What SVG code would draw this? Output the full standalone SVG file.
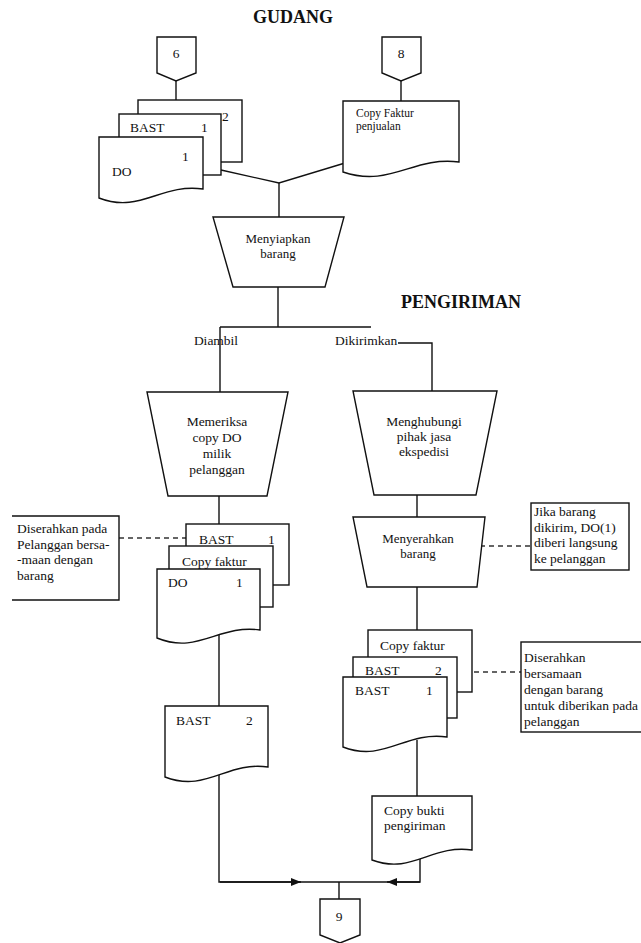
<svg xmlns="http://www.w3.org/2000/svg" width="641" height="943" viewBox="0 0 641 943">
<defs>
<style>
.ln{fill:none;stroke:#111;stroke-width:1.4}
.dash{fill:none;stroke:#333;stroke-width:1.4;stroke-dasharray:5,4}
.sh{fill:#fff;stroke:#111;stroke-width:1.4}
.t{font-family:"Liberation Serif","Times New Roman",serif;font-size:13.5px;fill:#111}
.s{font-family:"Liberation Serif","Times New Roman",serif;font-size:11.5px;fill:#111}
.m{font-size:13px}
.c{text-anchor:middle}
.h{font-family:"Liberation Serif","Times New Roman",serif;font-size:18px;font-weight:bold;fill:#111;text-anchor:middle}
</style>
<marker id="ar" viewBox="0 0 10 8" refX="10" refY="4" markerWidth="10" markerHeight="8" markerUnits="userSpaceOnUse" orient="auto">
<path d="M0,0 L10,4 L0,8 Z" fill="#111"/>
</marker>
</defs>
<rect width="641" height="943" fill="#fff"/>

<text class="h" x="293" y="23">GUDANG</text>
<text class="h" x="461" y="308">PENGIRIMAN</text>

<g id="connectors">
<path class="ln" d="M176,81 V102"/>
<path class="ln" d="M401,81 V103"/>
<path class="ln" d="M221,170 L279,183 L345,163"/>
<path class="ln" d="M279,183 V218"/>
<path class="ln" d="M278,286 V327"/>
<path class="ln" d="M220,327 H371"/>
<path class="ln" d="M220,327 V393"/>
<path class="ln" d="M398,343 H432 V392"/>
<path class="ln" d="M219,495 V526"/>
<path class="ln" d="M219,630 V708"/>
<path class="ln" d="M219,770 V882 H420 V850"/>
<path class="ln" d="M220,882 H301" marker-end="url(#ar)"/>
<path class="ln" d="M420,882 H387" marker-end="url(#ar)"/>
<path class="ln" d="M339,882 V900"/>
<path class="ln" d="M417,494 V518"/>
<path class="ln" d="M417,586 V632"/>
<path class="ln" d="M417,740 V798"/>
<path class="dash" d="M119,538 H186"/>
<path class="dash" d="M480,546 H531"/>
<path class="dash" d="M474,672 H521"/>
</g>

<g id="off6">
<path class="sh" d="M157,37 H196 V73 L176,81 L157,73 Z"/>
<text class="t c" x="176" y="58">6</text>
</g>
<g id="off8">
<path class="sh" d="M382,37 H421 V73 L401,81 L382,73 Z"/>
<text class="t c" x="401" y="58">8</text>
</g>

<g id="doc-bast2-top">
<rect class="sh" x="138" y="100" width="104" height="62"/>
<text class="t" x="222" y="121">2</text>
</g>
<g id="doc-bast1-top">
<rect class="sh" x="119" y="114" width="102" height="61"/>
<text class="t" x="130" y="132">BAST</text>
<text class="t" x="201" y="132">1</text>
</g>
<g id="doc-do-top">
<path class="sh" d="M99,137 H203 V189 C161,183 140,214 99,198 Z"/>
<text class="t" x="182" y="161">1</text>
<text class="t" x="112" y="176">DO</text>
</g>

<g id="doc-copyfaktur-penjualan">
<path class="sh" d="M343,101 H459 V162 C413,156 390,188 343,172 Z"/>
<text class="s" x="356" y="117">Copy Faktur</text>
<text class="s" x="356" y="130">penjualan</text>
</g>

<g id="proc-menyiapkan">
<path class="sh" d="M213,217 H344 L325,287 H233 Z"/>
<text class="t m c" x="278" y="243">Menyiapkan</text>
<text class="t m c" x="278" y="258">barang</text>
</g>

<g id="label-diambil">
<text class="t c" x="216" y="345">Diambil</text>
</g>
<g id="label-dikirimkan">
<text class="t" x="335" y="345">Dikirimkan</text>
</g>

<g id="proc-memeriksa">
<path class="sh" d="M147,392 H288 L267,496 H168 Z"/>
<text class="t c" x="217" y="426">Memeriksa</text>
<text class="t c" x="217" y="442">copy DO</text>
<text class="t c" x="217" y="458">milik</text>
<text class="t c" x="217" y="474">pelanggan</text>
</g>

<g id="proc-menghubungi">
<path class="sh" d="M353,391 H497 L476,495 H374 Z"/>
<text class="t c" x="424" y="426">Menghubungi</text>
<text class="t c" x="424" y="441">pihak jasa</text>
<text class="t c" x="424" y="456">ekspedisi</text>
</g>

<g id="note-left">
<path class="ln" d="M12,516 H119 V600 H12"/>
<text class="t" x="17" y="533">Diserahkan pada</text>
<text class="t" x="17" y="548.5">Pelanggan bersa-</text>
<text class="t" x="17" y="564">-maan dengan</text>
<text class="t" x="17" y="579.5">barang</text>
</g>

<g id="doc-bast1-left">
<rect class="sh" x="186" y="524" width="103" height="61"/>
<text class="t" x="199" y="544">BAST</text>
<text class="t" x="268" y="544">1</text>
</g>
<g id="doc-copyfaktur-left">
<rect class="sh" x="169" y="546" width="104" height="61"/>
<text class="t" x="182" y="566">Copy faktur</text>
</g>
<g id="doc-do-left">
<path class="sh" d="M157,569 H260 V630 C219,624 198,655 157,638 Z"/>
<text class="t" x="168" y="587">DO</text>
<text class="t" x="236" y="587">1</text>
</g>

<g id="doc-bast2-left">
<path class="sh" d="M165,706 H268 V767 C227,761 206,793 165,777 Z"/>
<text class="t" x="176" y="725">BAST</text>
<text class="t" x="246" y="725">2</text>
</g>

<g id="proc-menyerahkan">
<path class="sh" d="M353,517 H485 L477,587 H367 Z"/>
<text class="t m c" x="418" y="543">Menyerahkan</text>
<text class="t m c" x="418" y="558">barang</text>
</g>

<g id="note-jika">
<rect class="ln" x="531" y="503" width="98" height="67"/>
<text class="t" x="534" y="516">Jika barang</text>
<text class="t" x="534" y="531.5">dikirim, DO(1)</text>
<text class="t" x="534" y="547">diberi langsung</text>
<text class="t" x="534" y="562.5">ke pelanggan</text>
</g>

<g id="doc-copyfaktur-right">
<rect class="sh" x="368" y="630" width="104" height="62"/>
<text class="t" x="380" y="650">Copy faktur</text>
</g>
<g id="doc-bast2-right">
<rect class="sh" x="353" y="657" width="104" height="61"/>
<text class="t" x="365" y="675">BAST</text>
<text class="t" x="435" y="675">2</text>
</g>
<g id="doc-bast1-right">
<path class="sh" d="M343,677 H447 V737 C405,731 384,763 343,747 Z"/>
<text class="t" x="355" y="695">BAST</text>
<text class="t" x="426" y="695">1</text>
</g>

<g id="note-diserahkan">
<rect class="ln" x="521" y="642" width="130" height="90"/>
<text class="t" x="524" y="662">Diserahkan</text>
<text class="t" x="524" y="678">bersamaan</text>
<text class="t" x="524" y="694">dengan barang</text>
<text class="t" x="524" y="710">untuk diberikan pada</text>
<text class="t" x="524" y="726">pelanggan</text>
</g>

<g id="doc-copybukti">
<path class="sh" d="M372,796 H472 V850 C432,844 412,875 372,860 Z"/>
<text class="t" x="384" y="815">Copy bukti</text>
<text class="t" x="384" y="830">pengiriman</text>
</g>

<g id="off9">
<path class="sh" d="M320,899 H360 V935 L340,943 L320,935 Z"/>
<text class="t c" x="339" y="921">9</text>
</g>
</svg>
